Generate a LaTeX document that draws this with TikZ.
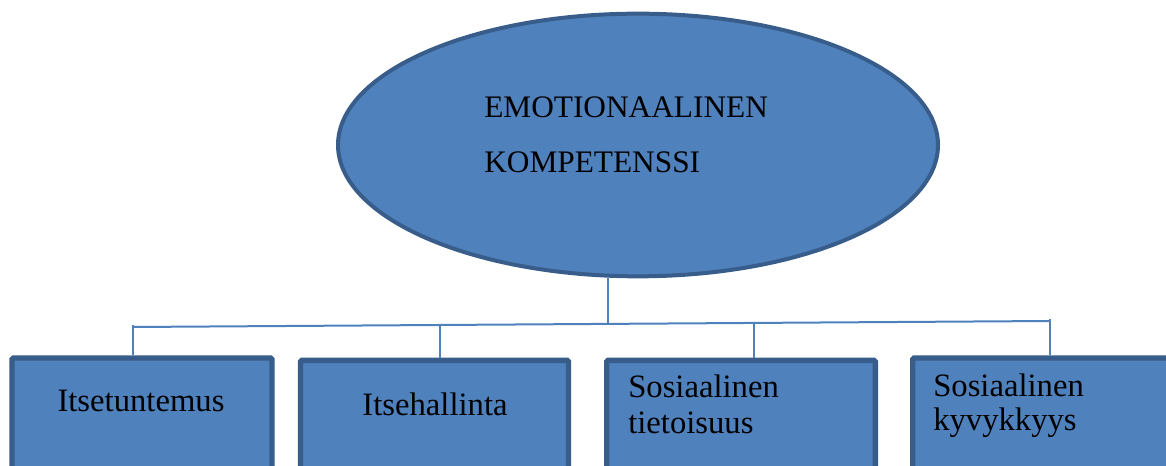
\documentclass[tikz,border=0pt]{standalone}
\usepackage{fontspec}
\setmainfont{Liberation Serif}
\usetikzlibrary{shapes.geometric}
\definecolor{boxblue}{HTML}{4F81BD}
\definecolor{edgeblue}{HTML}{385D8A}

\begin{document}
\begin{tikzpicture}[x=0.75pt,y=-0.75pt,
  cat/.style={draw=edgeblue,fill=boxblue,line width=4pt,rounded corners=1pt,
              anchor=north,minimum height=130pt},
  lbl/.style={font=\fontsize{23.5}{28}\selectfont,inner sep=0pt},
  catlbl/.style={lbl,font=\fontsize{24.5}{29}\selectfont},
  link/.style={boxblue,line width=1.5pt}]
  \useasboundingbox (0,0) rectangle (1166,466);
  \clip (0,0) rectangle (1166,466);

  % top
  \node[ellipse,draw=edgeblue,fill=boxblue,line width=3pt,
        minimum width=450pt,minimum height=197pt] (emo) at (638,145) {};
  \node[lbl,anchor=base west] (emo1) at (484,118) {EMOTIONAALINEN};
  \node[lbl,anchor=base west] (emo2) at (484,173) {KOMPETENSSI};

  % boxes
  \node[cat,minimum width=195pt] (tunt) at (142,355.4) {};
  \node[cat,minimum width=201pt] (hall) at (434.5,357.7) {};
  \node[cat,minimum width=201.5pt] (tiet) at (741,357.7) {};
  \node[cat,minimum width=201.5pt] (kyvy) at (1047,355.4) {};

  \node[catlbl,anchor=base] (tunt1) at (141,411.7) {Itsetuntemus};
  \node[catlbl,anchor=base] (hall1) at (435,415) {Itsehallinta};
  \node[catlbl,anchor=base west] (tiet1) at (628,397.7) {Sosiaalinen};
  \node[catlbl,anchor=base west] (tiet2) at (628,433) {tietoisuus};
  \node[catlbl,anchor=base west] (kyvy1) at (933,396) {Sosiaalinen};
  \node[catlbl,anchor=base west] (kyvy2) at (933,430.7) {kyvykkyys};

  % connectors
  \coordinate (hub) at (608,324.5);
  \coordinate (lft) at (133,327);
  \coordinate (rgt) at (1050,321);
  \draw[link] (emo.south -| hub) -- (hub);
  \draw[link] (lft) -- (rgt);
  \foreach \n/\x/\y in {tunt/133/325,hall/440/325,tiet/754/323,kyvy/1050/319}
    \draw[link] (\x,\y) -- (\x,0 |- \n.north);
\end{tikzpicture}
\end{document}
